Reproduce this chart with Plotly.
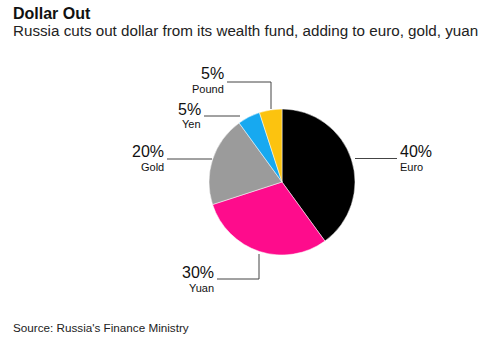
import plotly.graph_objects as go

# ---- data ----
currencies = ["Euro", "Yuan", "Gold", "Yen", "Pound"]
shares = [40, 30, 20, 5, 5]
colors = ["#000000", "#FE0C8C", "#9B9B9B", "#17A9F0", "#FCC30F"]

title = "Dollar Out"
subtitle = "Russia cuts out dollar from its wealth fund, adding to euro, gold, yuan"
source = "Source: Russia's Finance Ministry"

W, H = 501, 351
FONT = "Liberation Sans, Arial, Helvetica, sans-serif"


def px(x):
    return x / W


def py(y):
    return 1 - y / H


# pie geometry (pixel space)
cx, cy, r = 282, 182, 73

fig = go.Figure(
    go.Pie(
        labels=currencies,
        values=shares,
        marker=dict(colors=colors, line=dict(color="white", width=0.5)),
        sort=False,
        direction="clockwise",
        rotation=0,
        textinfo="none",
        hoverinfo="label+percent",
        domain=dict(x=[px(cx - r), px(cx + r)], y=[py(cy + r), py(cy - r)]),
        showlegend=False,
    )
)

annotations = []


def txt(text, x, y, size, xanchor="left", bold=False, color="#111111"):
    annotations.append(
        dict(
            text=f"<b>{text}</b>" if bold else text,
            x=px(x), y=py(y), xref="paper", yref="paper",
            xanchor=xanchor, yanchor="middle", showarrow=False,
            borderpad=0,
            font=dict(family=FONT, size=size, color=color),
        )
    )


txt(title, 12, 13.5, 16, bold=True)
txt(subtitle, 12, 30, 15.2, color="#222222")
txt(source, 12, 327.5, 11.7, color="#222222")

# slice labels: (slice index, anchor x, pct mid y, name mid y, xanchor)
label_spec = [
    (0, 399, 151.5, 166.5, "left"),
    (1, 215, 272.5, 287.5, "right"),
    (2, 165, 152, 167, "right"),
    (3, 202, 109, 123.5, "right"),
    (4, 225, 73.5, 88.5, "right"),
]
total = sum(shares)
for i, x, y1, y2, xa in label_spec:
    txt(f"{round(shares[i] / total * 100)}%", x, y1, 16, xanchor=xa)
    txt(currencies[i], x, y2, 11, xanchor=xa)

# leader lines (pixel polylines)
leaders = [
    [(355, 158.5), (397, 158.5)],              # Euro
    [(167, 159), (212, 159)],                  # Gold
    [(204, 116), (240, 116)],                  # Yen
    [(227, 82), (271, 82), (271, 109)],        # Pound
    [(259, 254), (259, 279), (217, 279)],      # Yuan
]
shapes = []
for pts in leaders:
    for (x0, y0), (x1, y1) in zip(pts[:-1], pts[1:]):
        shapes.append(
            dict(type="line", xref="paper", yref="paper",
                 x0=px(x0), y0=py(y0), x1=px(x1), y1=py(y1),
                 line=dict(color="#444444", width=1))
        )

fig.update_layout(
    width=W, height=H,
    margin=dict(l=0, r=0, t=0, b=0),
    paper_bgcolor="white",
    plot_bgcolor="white",
    annotations=annotations,
    shapes=shapes,
)

fig.write_html("out.html")
